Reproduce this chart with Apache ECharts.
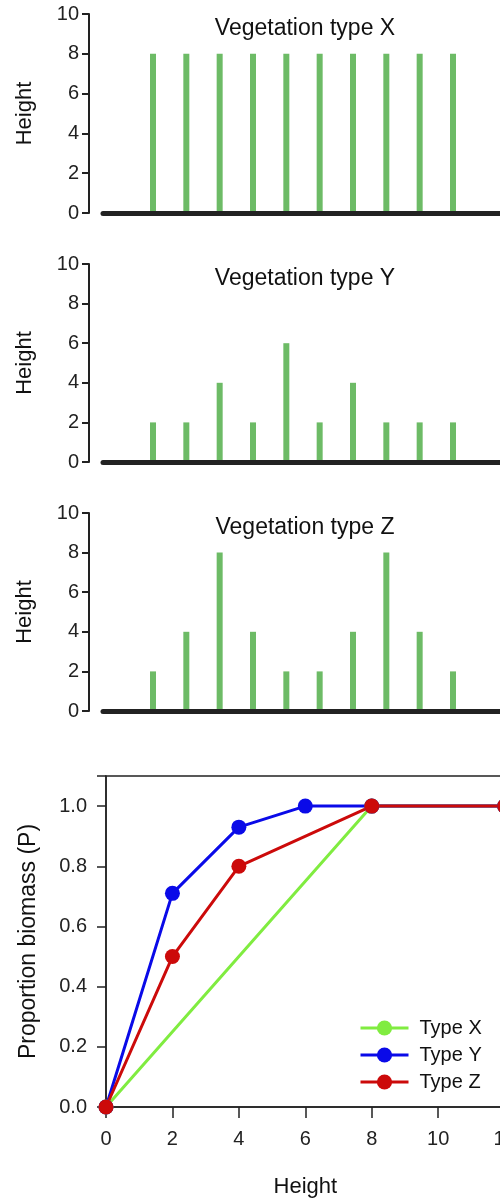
<!DOCTYPE html>
<html>
<head>
<meta charset="utf-8">
<script src="https://cdn.jsdelivr.net/npm/echarts@6/dist/echarts.min.js"></script>
<style>
  html, body { margin: 0; padding: 0; background: #fff; }
  #main { width: 500px; height: 1201px; }
</style>
</head>
<body>
<div id="main"></div>
<script>
  // bar positions (height classes) and leaf counts for the three vegetation types
  const barPos = [1.5, 2.5, 3.5, 4.5, 5.5, 6.5, 7.5, 8.5, 9.5, 10.5]
  const vegX = [8, 8, 8, 8, 8, 8, 8, 8, 8, 8]
  const vegY = [2, 2, 4, 2, 6, 2, 4, 2, 2, 2]
  const vegZ = [2, 4, 8, 4, 2, 2, 4, 8, 4, 2]
  const panelTitles = ['Vegetation type X', 'Vegetation type Y', 'Vegetation type Z']

  // cumulative proportion of biomass by height
  const heightX = [0, 8, 12]
  const propX = [0, 1.0, 1.0]
  const heightY = [0, 2, 4, 6, 8, 12]
  const propY = [0, 0.71, 0.93, 1.0, 1.0, 1.0]
  const heightZ = [0, 2, 4, 8, 12]
  const propZ = [0, 0.5, 0.8, 1.0, 1.0]

  const font = 'Liberation Sans, Arial, sans-serif'
  const ink = '#222'
  const barColor = '#6dbb66'

  const pair = (xs, ys) => xs.map((x, i) => [x, ys[i]])

  const panels = [
    { top: 14, height: 199, data: vegX },
    { top: 264, height: 198, data: vegY },
    { top: 513, height: 198, data: vegZ }
  ]

  const grid = []
  const xAxis = []
  const yAxis = []
  const series = []
  const title = []

  panels.forEach((p, i) => {
    grid.push({ left: 103, top: p.top, width: 400, height: p.height, outerBoundsMode: 'none' })
    xAxis.push({
      type: 'value', gridIndex: i, min: 0, max: 12, z: 5,
      axisLine: { show: true, onZero: false, lineStyle: { color: ink, width: 5 } },
      axisTick: { show: false }, axisLabel: { show: false }, splitLine: { show: false }
    })
    yAxis.push({
      type: 'value', gridIndex: i, min: 0, max: 10, interval: 2, offset: 14,
      name: 'Height', nameLocation: 'middle', nameGap: 53, nameMoveOverlap: false,
      nameTextStyle: { fontFamily: font, fontSize: 22, color: '#111' },
      axisLine: { show: true, onZero: false, lineStyle: { color: ink, width: 2 } },
      axisTick: { show: true, length: 7, lineStyle: { color: ink, width: 2 } },
      axisLabel: { margin: 10, fontFamily: font, fontSize: 20, color: ink },
      splitLine: { show: false }
    })
    series.push({
      type: 'bar', xAxisIndex: i, yAxisIndex: i, barWidth: 6,
      itemStyle: { color: barColor },
      data: pair(barPos, p.data)
    })
    title.push({
      text: panelTitles[i], left: 305, top: p.top + 3, textAlign: 'center', padding: 0,
      textStyle: { fontFamily: font, fontSize: 23, fontWeight: 'normal', color: '#111' }
    })
  })

  // bottom panel: proportion of biomass
  grid.push({
    left: 106, top: 776, width: 398.6, height: 331, outerBoundsMode: 'none',
    show: true, borderColor: ink, borderWidth: 1.5, backgroundColor: 'transparent'
  })
  xAxis.push({
    type: 'value', gridIndex: 3, min: 0, max: 12, interval: 2,
    name: 'Height', nameLocation: 'middle', nameGap: 69,
    nameTextStyle: { fontFamily: font, fontSize: 22, color: '#111' },
    axisLine: { show: true, onZero: false, lineStyle: { color: ink, width: 1.5 } },
    axisTick: { show: true, length: 11, lineStyle: { color: ink, width: 1.5 } },
    axisLabel: { margin: 22, fontFamily: font, fontSize: 20, color: ink },
    splitLine: { show: false }
  })
  yAxis.push({
    type: 'value', gridIndex: 3, min: 0, max: 1.1, interval: 0.2,
    name: 'Proportion biomass (P)', nameLocation: 'middle', nameGap: 66,
    nameTextStyle: { fontFamily: font, fontSize: 23, color: '#111' },
    axisLine: { show: true, onZero: false, lineStyle: { color: ink, width: 1.5 } },
    axisTick: { show: true, length: 9, lineStyle: { color: ink, width: 1.5 } },
    axisLabel: {
      margin: 19, fontFamily: font, fontSize: 20, color: ink,
      formatter: v => (v > 1.05 ? '' : v.toFixed(1))
    },
    splitLine: { show: false }
  })

  const lineSeries = [
    { name: 'Type X', color: '#80ec40', data: pair(heightX, propX) },
    { name: 'Type Y', color: '#0a0ae8', data: pair(heightY, propY) },
    { name: 'Type Z', color: '#cc0a0a', data: pair(heightZ, propZ) }
  ]
  lineSeries.forEach(s => {
    series.push({
      type: 'line', name: s.name, xAxisIndex: 3, yAxisIndex: 3,
      data: s.data, symbol: 'circle', symbolSize: 15, showSymbol: true,
      lineStyle: { color: s.color, width: 3 },
      itemStyle: { color: s.color }
    })
  })

  const chart = echarts.init(document.getElementById('main'))
  chart.setOption({
    animation: false,
    title: title,
    grid: grid,
    xAxis: xAxis,
    yAxis: yAxis,
    series: series,
    legend: {
      data: ['Type X', 'Type Y', 'Type Z'],
      orient: 'vertical', left: 354, top: 1013,
      itemWidth: 48, itemHeight: 19, itemGap: 7,
      lineStyle: { width: 3 },
      textStyle: { fontFamily: font, fontSize: 20, color: '#111', padding: [0, 0, 0, 6] }
    }
  })
</script>
</body>
</html>
